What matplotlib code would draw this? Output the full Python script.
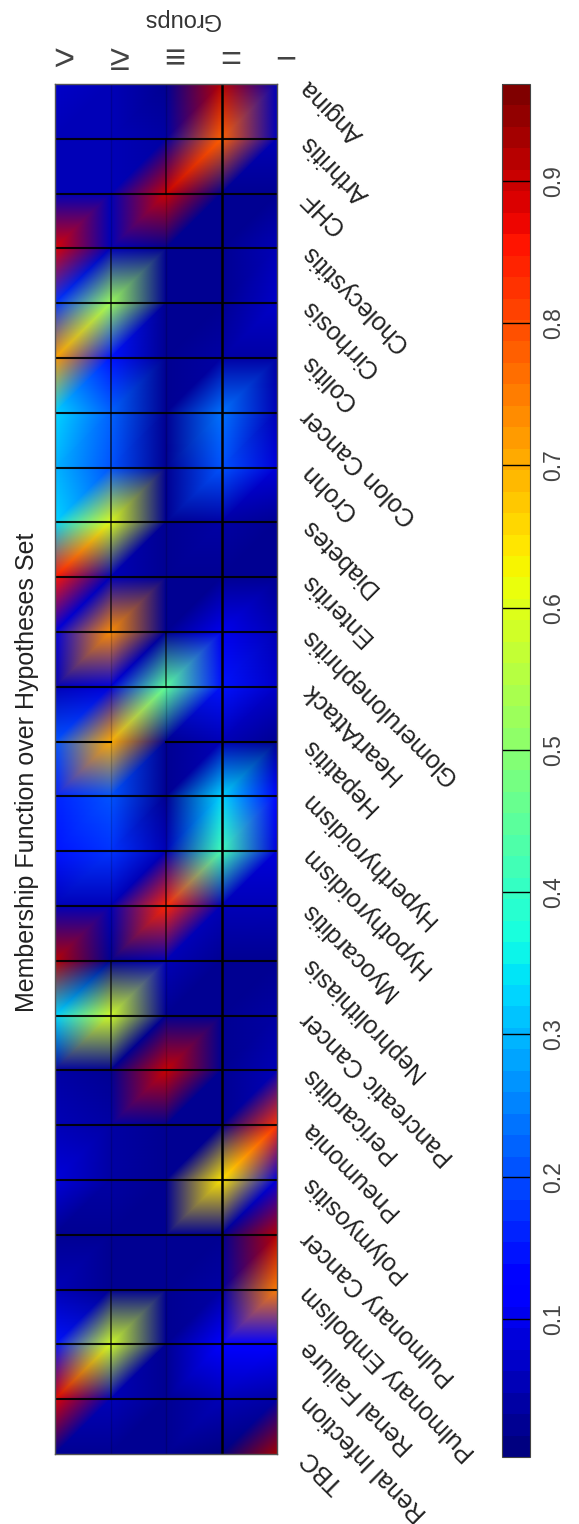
import matplotlib
matplotlib.use('Agg')
import matplotlib.pyplot as plt
import matplotlib.tri as mtri
import numpy as np

plt.rcParams['font.family'] = ['Liberation Sans', 'DejaVu Sans']

diseases = ['Angina', 'Arthritis', 'CHF', 'Cholecystitis', 'Cirrhosis', 'Colitis',
            'Colon Cancer', 'Crohn', 'Diabetes', 'Enteritis', 'Glomerulonephritis',
            'HeartAttack', 'Hepatitis', 'Hyperthyroidism', 'Hypothyroidism',
            'Myocarditis', 'Nephrolithiasis', 'Pancreatic Cancer', 'Pericarditis',
            'Pneumonia', 'Polymyositis', 'Pulmonary Cancer', 'Pulmonary Embolism',
            'Renal Failure', 'Renal Infection', 'TBC']
groups = ['>', '≥', '≡', '=', '−']

# one list per group top to bottom
gt = [.07, .05, .05, .88, .17, .72, .32, .29, .32, .85, .08, .06, .20,
      .16, .15, .06, .92, .32, .04, .05, .08, .03, .05, .14, .88, .03]
ge = [.06, .05, .05, .06, .52, .15, .22, .20, .60, .05, .74, .08, .70,
      .20, .18, .06, .03, .58, .03, .04, .04, .03, .03, .58, .05, .02]
eqv = [.03, .04, .90, .03, .03, .03, .02, .03, .03, .02, .03, .45, .03,
       .03, .05, .84, .05, .03, .90, .03, .03, .03, .03, .03, .03, .02]
eq = [.92, .78, .03, .03, .03, .04, .24, .20, .04, .03, .10, .14, .05,
      .33, .42, .05, .03, .03, .03, .03, .65, .03, .04, .12, .05, .01]
lt = [.05, .05, .03, .06, .07, .04, .06, .08, .03, .03, .06, .07, .03,
      .13, .08, .06, .03, .04, .06, .82, .09, .92, .75, .12, .04, .93]

ticks = [.1, .2, .3, .4, .5, .6, .7, .8, .9]
vmin, vmax = 0.003, 0.968

# (group, first row, last row) pieces of the inner vertical lines
strong_lines = [(1, 3, 10), (1, 16, 18), (1, 22, 24), (2, 1, 2), (2, 10, 11), (2, 14, 16)]
faint_lines = [(1, 0, 3), (1, 10, 16), (1, 18, 22), (1, 24, 25), (2, 0, 1), (2, 2, 10),
               (2, 11, 14), (2, 16, 25)]

values = np.array([gt, ge, eqv, eq, lt])
nc, nr = values.shape
cols, rows = np.meshgrid(np.arange(nc), np.arange(nr), indexing='ij')

# diagonal of every quad runs bottom left to top right like the original
tris = []
for c in range(nc - 1):
    for r in range(nr - 1):
        tl, bl = c * nr + r, c * nr + r + 1
        tr, br = (c + 1) * nr + r, (c + 1) * nr + r + 1
        tris.append([tl, bl, tr])
        tris.append([bl, br, tr])
tri = mtri.Triangulation(cols.ravel(), rows.ravel(), tris)

W, H = 579, 1524
fig = plt.figure(figsize=(W / 100, H / 100), dpi=100)
ax = fig.add_axes([55 / W, (H - 1454) / H, 222 / W, 1370 / H])
cmap = plt.get_cmap('jet', 64)
mesh = ax.tripcolor(tri, values.ravel(), shading='gouraud', cmap=cmap, vmin=vmin, vmax=vmax)
ax.set_xlim(0, nc - 1)
ax.set_ylim(nr - 1, 0)

for r in range(1, nr - 1):
    if r == 12:
        ax.plot([0, 1], [r, r], color='k', lw=1.5)
        ax.plot([2, 4], [r, r], color='k', lw=1.5)
    else:
        ax.plot([0, 4], [r, r], color='k', lw=1.5, alpha=0.9)
ax.plot([3, 3], [0, nr - 1], color='k', lw=1.8)
for c, a, b in strong_lines:
    ax.plot([c, c], [a, b], color='k', lw=1.1, alpha=0.75)
for c, a, b in faint_lines:
    ax.plot([c, c], [a, b], color='k', lw=1, alpha=0.18)

for s in ax.spines.values():
    s.set_color('#555555')
    s.set_linewidth(1)

ax.set_xticks([])
ax.yaxis.tick_right()
ax.set_yticks(np.arange(nr))
ax.set_yticklabels(diseases, rotation=135, ha='right', va='center', rotation_mode='anchor',
                   fontsize=18, color='#222222')
ax.tick_params(axis='y', length=0, pad=20)

for c, g in enumerate(groups):
    ax.annotate(g, (c, 1), xycoords=('data', 'axes fraction'), xytext=(6.5, 17),
                textcoords='offset points', ha='center', va='center',
                fontsize=26, color='#444444')
fig.text(181 / W, 1 - 19 / H, 'Groups', rotation=180, ha='center', va='center',
         fontsize=17, color='#333333')
fig.text(27 / W, 1 - 772 / H, 'Membership Function over Hypotheses Set', rotation=90,
         ha='center', va='center', fontsize=18, color='#222222')

cax = fig.add_axes([502 / W, (H - 1457) / H, 28 / W, 1373 / H])
cbar = fig.colorbar(mesh, cax=cax, ticks=ticks)
cbar.ax.tick_params(length=0, pad=9, labelsize=16.5, labelcolor='#444444')
cbar.ax.set_yticklabels(['%.1f' % t for t in ticks], rotation=90, va='center')
cax.hlines(ticks, 0, 1, color='k', lw=1, transform=cax.get_yaxis_transform())
cbar.outline.set_edgecolor('#444444')

fig.savefig('out.png', dpi=100)
